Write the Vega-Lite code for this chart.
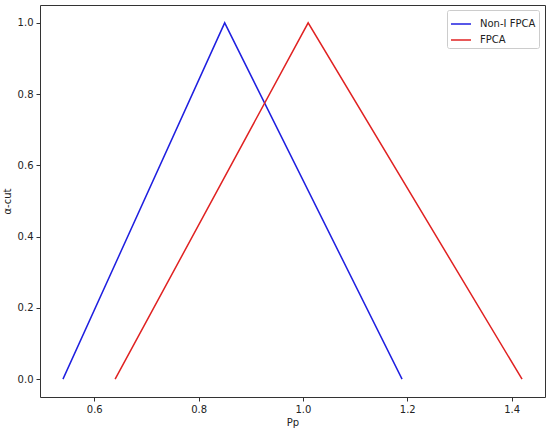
{
  "$schema": "https://vega.github.io/schema/vega-lite/v6.json",
  "width": 505,
  "height": 392,
  "autosize": {"type": "none"},
  "padding": {"left": 40, "top": 5, "right": 5, "bottom": 33},
  "background": "white",
  "config": {
    "font": "DejaVu Sans",
    "view": {"stroke": "#333", "strokeWidth": 1},
    "axis": {
      "grid": false,
      "domain": false,
      "tickColor": "#333",
      "tickSize": 4,
      "labelFont": "DejaVu Sans",
      "labelFontSize": 10,
      "labelColor": "#222",
      "titleFont": "DejaVu Sans",
      "titleFontSize": 10,
      "titleFontWeight": "normal",
      "titleColor": "#222"
    }
  },
  "data": {
    "values": [
      {"series": "Non-I FPCA", "x": 0.54, "y": 0, "i": 0},
      {"series": "Non-I FPCA", "x": 0.85, "y": 1, "i": 1},
      {"series": "Non-I FPCA", "x": 1.19, "y": 0, "i": 2},
      {"series": "FPCA", "x": 0.64, "y": 0, "i": 0},
      {"series": "FPCA", "x": 1.01, "y": 1, "i": 1},
      {"series": "FPCA", "x": 1.42, "y": 0, "i": 2}
    ]
  },
  "mark": {"type": "line", "strokeWidth": 1.5, "clip": true},
  "encoding": {
    "x": {
      "field": "x", "type": "quantitative", "title": "Pp",
      "scale": {"domain": [0.496, 1.464], "nice": false, "zero": false},
      "axis": {"values": [0.6, 0.8, 1.0, 1.2, 1.4], "format": ".1f", "labelPadding": 3, "titlePadding": 3}
    },
    "y": {
      "field": "y", "type": "quantitative", "title": "α-cut",
      "scale": {"domain": [-0.05, 1.05], "nice": false, "zero": false},
      "axis": {"values": [0, 0.2, 0.4, 0.6, 0.8, 1.0], "format": ".1f", "labelPadding": 3, "titlePadding": 5}
    },
    "color": {
      "field": "series", "type": "nominal",
      "scale": {"domain": ["Non-I FPCA", "FPCA"], "range": ["#1f1fe0", "#e02222"]},
      "legend": {
        "title": null,
        "orient": "none",
        "legendX": 407,
        "legendY": 5,
        "symbolType": "stroke",
        "symbolSize": 400,
        "symbolStrokeWidth": 1.5,
        "labelFontSize": 10,
        "labelFont": "DejaVu Sans",
        "labelColor": "#222",
        "labelOffset": 8,
        "fillColor": "white",
        "strokeColor": "#ccc",
        "cornerRadius": 2,
        "padding": 3,
        "rowPadding": -5
      }
    },
    "order": {"field": "i", "type": "quantitative"}
  }
}
